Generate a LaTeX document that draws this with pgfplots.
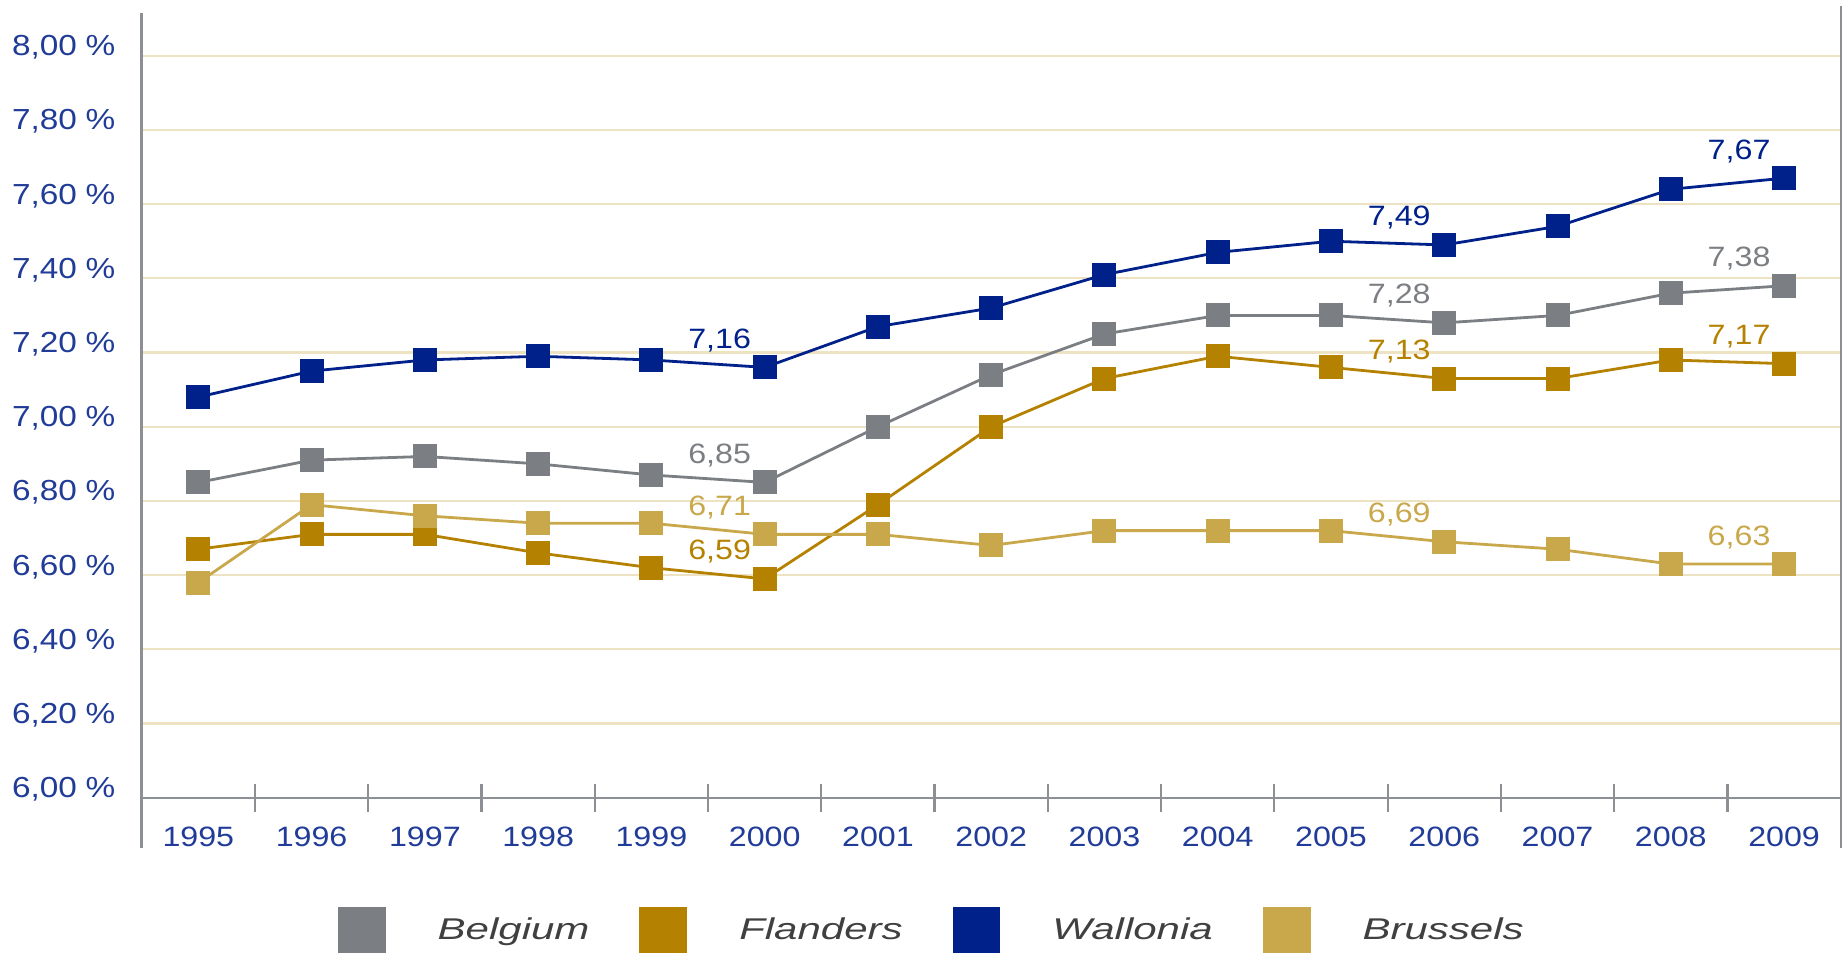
\documentclass[border=0pt]{standalone}
\usepackage{fontspec}
\setmainfont{Liberation Sans}
\newfontfamily\tickfont[FakeStretch=1.15]{Liberation Sans}
\newfontfamily\legfont[FakeStretch=1.4]{Liberation Sans}
\usepackage{pgfplots}
\usepackage{pgfplotstable}
\pgfplotsset{compat=1.18}
\usetikzlibrary{calc}

\definecolor{belc}{HTML}{7B7F83}
\definecolor{flac}{HTML}{B58100}
\definecolor{walc}{HTML}{00208A}
\definecolor{bruc}{HTML}{C9A84B}
\definecolor{tickc}{HTML}{203C98}
\definecolor{gridc}{HTML}{EDE3C3}
\definecolor{spinec}{HTML}{8C9094}
\definecolor{legc}{HTML}{404040}

\pgfplotstableread{
x bel fla wal bru
0 6.85 6.67 7.08 6.58
1 6.91 6.71 7.15 6.79
2 6.92 6.71 7.18 6.76
3 6.90 6.66 7.19 6.74
4 6.87 6.62 7.18 6.74
5 6.85 6.59 7.16 6.71
6 7.00 6.79 7.27 6.71
7 7.14 7.00 7.32 6.68
8 7.25 7.13 7.41 6.72
9 7.30 7.19 7.47 6.72
10 7.30 7.16 7.50 6.72
11 7.28 7.13 7.49 6.69
12 7.30 7.13 7.54 6.67
13 7.36 7.18 7.64 6.63
14 7.38 7.17 7.67 6.63
}\data

\newcommand{\tf}{\tickfont\fontsize{14}{16}\selectfont}
\newcommand{\pc}{\hspace{0.3em}\%}

\begin{document}
\begin{tikzpicture}
\begin{axis}[
  name=ax,
  scale only axis, width=849.5pt, height=395.9pt,
  xmin=-0.5, xmax=14.5, ymin=6, ymax=8.134,
  clip=false,
  axis line style={draw=none},
  tick pos=left,
  tick align=center,
  xtick={0,...,14},
  xticklabels={1995,1996,1997,1998,1999,2000,2001,2002,2003,2004,2005,2006,2007,2008,2009},
  major x tick style={draw=none},
  minor xtick={0.5,1.5,...,13.5},
  minor tick length=14pt,
  minor x tick style={spinec, line width=1.1pt},
  ytick={6,6.2,6.4,6.6,6.8,7,7.2,7.4,7.6,7.8,8},
  yticklabels={{6,00\pc},{6,20\pc},{6,40\pc},{6,60\pc},{6,80\pc},{7,00\pc},{7,20\pc},{7,40\pc},{7,60\pc},{7,80\pc},{8,00\pc}},
  major y tick style={draw=none},
  ymajorgrids,
  major grid style={gridc, line width=1.1pt},
  ticklabel style={font=\tf, text=tickc},
  xticklabel style={yshift=-9pt},
  yticklabel style={anchor=base east, xshift=-7.5pt, font=\tickfont\fontsize{14.5}{16}\selectfont},
  every axis plot/.append style={line width=1.4pt, mark=square*, mark size=5.3pt},
  legend image code/.code={\fill[#1] (0pt,-11.25pt) rectangle (22.5pt,11.25pt);},
  legend columns=4,
  legend style={draw=none, fill=none, inner sep=0pt, outer sep=0pt,
    at={(axis description cs:0.1155,-0.1677)}, anchor=west,
    font=\legfont\itshape\fontsize{15}{18}\selectfont, text=legc,
    nodes={inner sep=0pt},
    /tikz/every odd column/.append style={column sep=26pt},
    /tikz/every even column/.append style={column sep=25pt}},
]
\draw[spinec, line width=1.2pt] (axis cs:-0.5,8.115) -- (axis cs:-0.5,5.865);
\draw[spinec, line width=1.2pt] (axis cs:14.5,8.134) -- (axis cs:14.5,5.865);
\draw[spinec, line width=1.2pt] (axis cs:-0.5,6) -- (axis cs:14.5,6);

\addplot[color=belc, mark options={fill=belc, draw=belc}] table[x=x, y=bel] {\data};
\addlegendentry{Belgium}
\addplot[color=flac, mark options={fill=flac, draw=flac}] table[x=x, y=fla] {\data};
\addlegendentry{Flanders}
\addplot[color=walc, mark options={fill=walc, draw=walc}] table[x=x, y=wal] {\data};
\addlegendentry{Wallonia}
\addplot[color=bruc, mark options={fill=bruc, draw=bruc}] table[x=x, y=bru] {\data};
\addlegendentry{Brussels}

\begin{scope}[every node/.style={font=\tf, anchor=base, xshift=-22.5pt, yshift=9.5pt}]
\node[text=walc] at (axis cs:5,7.16) {7,16};
\node[text=walc] at (axis cs:11,7.49) {7,49};
\node[text=walc] at (axis cs:14,7.67) {7,67};
\node[text=belc] at (axis cs:5,6.85) {6,85};
\node[text=belc] at (axis cs:11,7.28) {7,28};
\node[text=belc] at (axis cs:14,7.38) {7,38};
\node[text=flac] at (axis cs:5,6.59) {6,59};
\node[text=flac] at (axis cs:11,7.13) {7,13};
\node[text=flac] at (axis cs:14,7.17) {7,17};
\node[text=bruc] at (axis cs:5,6.71) {6,71};
\node[text=bruc] at (axis cs:11,6.69) {6,69};
\node[text=bruc] at (axis cs:14,6.63) {6,63};
\end{scope}
\end{axis}
\pgfresetboundingbox
\path[use as bounding box] ($(ax.south west)+(-70.85pt,-77.15pt)$) rectangle ($(ax.north east)+(1.15pt,3pt)$);
\end{tikzpicture}
\end{document}
